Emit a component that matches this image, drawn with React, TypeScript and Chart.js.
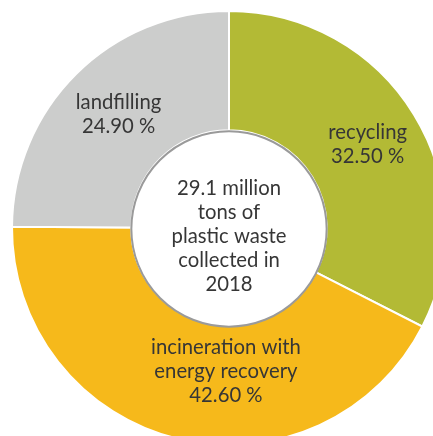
import React, { useEffect, useRef } from "react";
import { Chart, registerables } from "chart.js";

Chart.register(...registerables);

const categories = ["recycling", "incineration with energy recovery", "landfilling"];
const shares = [32.5, 42.6, 24.9];
const labelLines = [["recycling"], ["incineration with", "energy recovery"], ["landfilling"]];
const centerLines = ["29.1 million", "tons of", "plastic waste", "collected in", "2018"];

const colors = ["#B3BA35", "#F6B91B", "#CCCDCC"];
// label anchor offsets as fractions of the outer radius (styling only)
const labelOffsets = [
  [0.639, -0.384],
  [-0.014, 0.662],
  [-0.509, -0.523],
];

const FONT = "20.3px Lato, 'Open Sans', sans-serif";
const TEXT_COLOR = "#363636";
const LINE_H = 24;

const overlayPlugin = {
  id: "overlay",
  afterDatasetsDraw(chart: any) {
    const meta = chart.getDatasetMeta(0);
    const arcs = meta.data;
    if (!arcs.length) return;
    const { x, y, outerRadius, innerRadius } = arcs[0].getProps(
      ["x", "y", "outerRadius", "innerRadius"],
      true
    );
    const ctx = chart.ctx;
    ctx.save();
    // inner circle outline
    ctx.beginPath();
    ctx.arc(x, y + 1, innerRadius, 0, Math.PI * 2);
    ctx.fillStyle = "#ffffff";
    ctx.fill();
    ctx.lineWidth = 2;
    ctx.strokeStyle = "#9a9a9a";
    ctx.stroke();

    ctx.font = FONT;
    ctx.fillStyle = TEXT_COLOR;
    ctx.textAlign = "center";
    ctx.textBaseline = "middle";

    // segment labels
    shares.forEach((v, i) => {
      const lines = [...labelLines[i], v.toFixed(2) + " %"];
      const cx = x + labelOffsets[i][0] * outerRadius;
      const cy = y + labelOffsets[i][1] * outerRadius;
      const startY = cy - ((lines.length - 1) * LINE_H) / 2;
      lines.forEach((t, j) => ctx.fillText(t, cx, startY + j * LINE_H));
    });

    // center text
    const startY = y + 8 - ((centerLines.length - 1) * LINE_H) / 2;
    centerLines.forEach((t, j) => ctx.fillText(t, x, startY + j * LINE_H));
    ctx.restore();
  },
};

export default function App() {
  const ref = useRef<HTMLCanvasElement>(null);
  useEffect(() => {
    if (!ref.current) return;
    const chart = new Chart(ref.current, {
      type: "doughnut",
      data: {
        labels: categories,
        datasets: [
          {
            data: shares,
            backgroundColor: colors,
            borderColor: "#ffffff",
            borderWidth: 2,
            hoverOffset: 0,
          },
        ],
      },
      options: {
        responsive: false,
        animation: false,
        radius: 217,
        cutout: "45%",
        plugins: {
          legend: { display: false },
          tooltip: { enabled: false },
        },
        events: [],
      } as any,
      plugins: [overlayPlugin],
    });
    return () => chart.destroy();
  }, []);

  return (
    <div style={{ position: "fixed", left: 0, top: 0, width: 433, height: 436, overflow: "hidden", background: "#fff" }}>
      <canvas
        ref={ref}
        width={460}
        height={460}
        style={{ position: "absolute", left: -1, top: -2, width: 460, height: 460 }}
      />
    </div>
  );
}
